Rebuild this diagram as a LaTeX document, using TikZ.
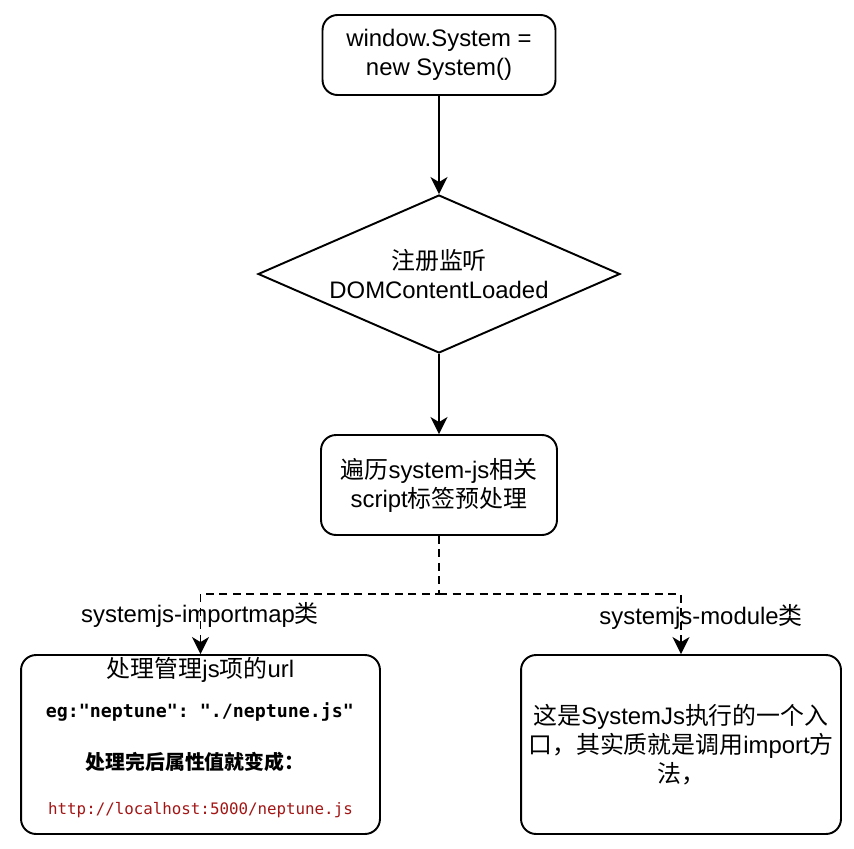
\documentclass[tikz,border=0pt]{standalone}
\usepackage{fontspec}
\setmainfont{Liberation Sans}
\setmonofont{DejaVu Sans Mono}
\newfontfamily\cjk{Noto Sans CJK SC}
\newcommand{\zh}[1]{{\cjk #1}}
\usetikzlibrary{positioning,arrows.meta,shapes.geometric}
\definecolor{urlred}{RGB}{163,21,21}
\tikzset{
  flowarrow/.style={-{Stealth[length=3.4mm, width=3.4mm, inset=1mm]}, line width=1.1pt},
  dasharrow/.style={flowarrow, dash pattern=on 1.6mm off 1.1mm},
  procbox/.style={draw, rounded corners=3mm, line width=1.1pt, inner sep=0pt, align=center, font=\fontsize{13.6}{16.5}\selectfont},
  decnode/.style={draw, diamond, aspect=2.29, line width=1.1pt, inner sep=0pt, align=center, font=\fontsize{13.6}{16.5}\selectfont},
  edgelabel/.style={inner sep=0pt, font=\fontsize{13.6}{16.5}\selectfont},
  codeline/.style={inner sep=0pt, font=\ttfamily\bfseries\fontsize{10.4}{12}\selectfont},
  urlline/.style={inner sep=0pt, text=urlred, font=\ttfamily\fontsize{9}{11}\selectfont}
}

\begin{document}
\begin{tikzpicture}[x=0.02cm, y=-0.02cm]
  \useasboundingbox (0,0) rectangle (854,848);
  \node[procbox, minimum width=4.66cm, minimum height=1.6cm] (init) at (439,55) {window.System =\\new System()};
  \node[decnode, minimum width=7.24cm, minimum height=3.16cm] (listen) at (439,274) {\zh{注册监听}\\DOMContentLoaded};
  \node[procbox, minimum width=4.72cm, minimum height=2cm] (scan) at (439,485) {\zh{遍历}system-js\zh{相关}\\script\zh{标签预处理}};
  \node[procbox, minimum width=7.18cm, minimum height=3.58cm] (mapbox) at (200.5,744.5) {};
  \node[procbox, minimum width=6.4cm, minimum height=3.58cm] (modbox) at (681,744.5) {\zh{这是}SystemJs\zh{执行的一个入}\\\zh{口，其实质就是调用}import\zh{方}\\\zh{法，}};

  \node[edgelabel] (maptitle) at (200.5,670) {\zh{处理管理}js\zh{项的}url};
  \node[codeline] (mapeg) at (200,712) {eg:"neptune": "./neptune.js"};
  \node[edgelabel, font=\cjk\bfseries\fontsize{11.3}{13}\selectfont] (mapnote) at (195,762) {处理完后属性值就变成：};
  \node[urlline] (mapurl) at (200.5,810) {http://localhost:5000/neptune.js};

  \coordinate (fork) at (439,594);
  \node[edgelabel] (lblmap) at (200,615) {systemjs-importmap\zh{类}};
  \node[edgelabel] (lblmod) at (701,617) {systemjs-module\zh{类}};

  \draw[flowarrow] (init) -- (listen);
  \draw[flowarrow] (listen) -- (scan);
  \draw[dasharrow] (scan.south) -- (fork) -| (mapbox.north);
  \draw[dasharrow] (fork) -| (modbox.north);
\end{tikzpicture}
\end{document}
